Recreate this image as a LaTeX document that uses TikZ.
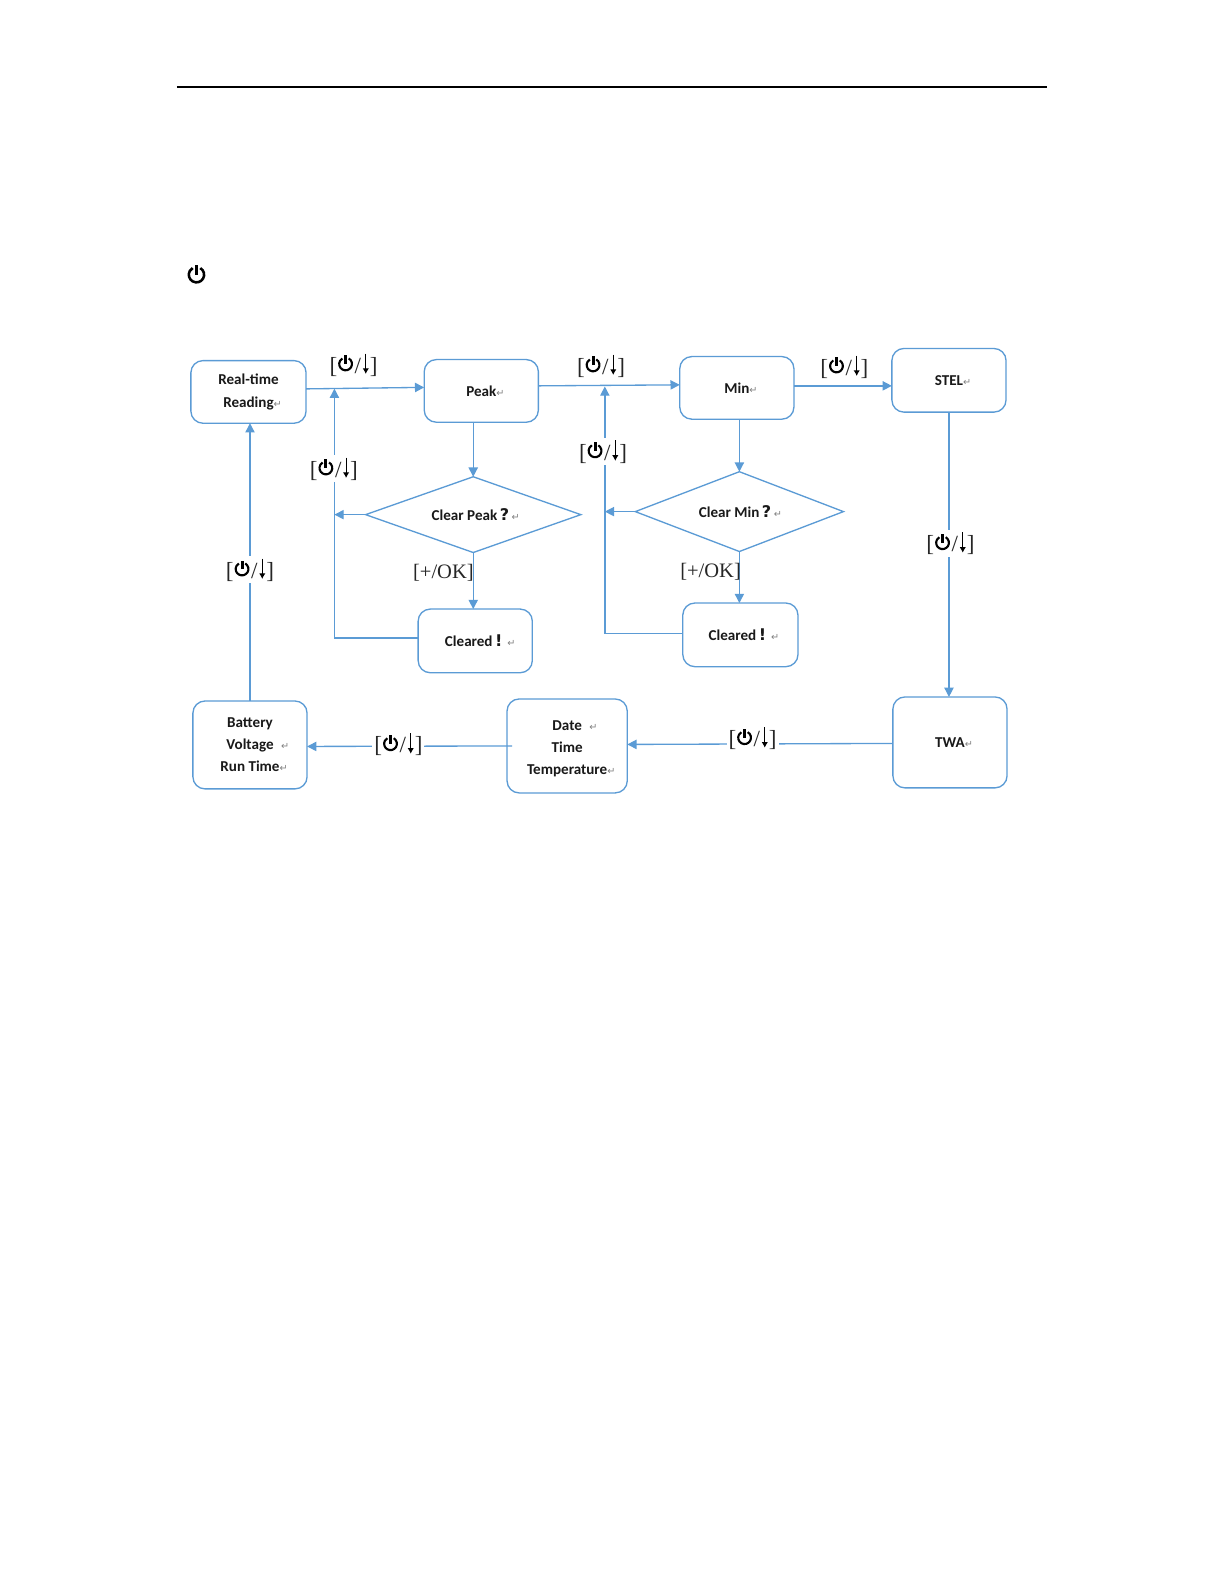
\documentclass[tikz,border=0pt]{standalone}
\usepackage{fontspec}
\setmainfont{Carlito}
\newfontfamily\keyfont{Liberation Serif}
\newfontfamily\markfont{DejaVu Sans}
\usetikzlibrary{calc}
\usetikzlibrary{arrows.meta}
\usetikzlibrary{shapes.geometric}
\definecolor{flow-blue}{HTML}{5B9BD5}
\definecolor{text-dark}{gray}{0.1}

% Power glyph, down arrow, return mark and the key labels
\newcommand{\pwrsym}[1][1]{\tikz[baseline=-0.1pt, x=0.88pt, y=0.88pt]{
  \draw[black, line width=#1*1.05pt, fill=none] ($ (0, #1*3.6) + (60:#1*3.17pt) $) arc (60:-240:#1*3.17pt);
  \draw[black, line width=#1*1.5pt] (0, #1*3.6) -- (0, #1*8.4);}}
\newcommand{\dnsym}{\tikz[baseline=-1.8pt, x=0.88pt, y=0.88pt]{
  \draw[black, line width=0.55pt, -{Latex[length=2.8pt, width=3.2pt]}] (0, 9) -- (0, -2.5);}}
\newcommand{\retmark}{{\markfont\mdseries\fontsize{4.8}{5}\selectfont\textcolor{gray}{↵}}}
\newcommand{\lapmark}{\rlap{\retmark}}
\newcommand{\keypwr}{[\raisebox{1.3pt}{\pwrsym}\kern0.4pt/\kern0.7pt\dnsym\kern0.4pt]}
\newcommand{\bigmark}[1]{{\markfont\bfseries\fontsize{8}{10}\selectfont #1}}

\tikzset{
  box/.style={draw=flow-blue, rounded corners=6pt, line width=0.66pt, fill=white, outer sep=0pt,
    inner sep=0pt, align=center, text=text-dark, font=\fontsize{7.5}{11}\selectfont\bfseries},
  choice/.style={draw=flow-blue, diamond, aspect=2.7, line width=0.66pt, fill=white, inner sep=0pt, outer sep=0pt,
    text=text-dark, font=\fontsize{7.5}{11}\selectfont\bfseries},
  link/.style={draw=flow-blue, line width=0.66pt},
  flow/.style={link, -{Triangle[length=4.6pt, width=4.6pt]}},
  keylabel/.style={fill=white, inner sep=1pt, text=black!85, font=\keyfont\fontsize{11.5}{12}\selectfont},
}

\begin{document}
\begin{tikzpicture}[x=0.5bp, y=-0.5bp]
\useasboundingbox (0, 0) rectangle (1212, 1568.2);

% Header rule and the power glyph
\coordinate[] (rulel) at (175, 86);
\coordinate[] (ruler) at (1037, 86);
\draw[black, line width=0.8pt] (rulel) -- (ruler);
\node[inner sep=0pt] (power) at (194.5, 271) {\pwrsym[1.2]};

% ---------------------------------------------------
% Top row
\node[box, minimum width=114*0.502pt, minimum height=62*0.502pt] (realtime) at (246, 388) {Real-time\\Reading\lapmark};
\node[box, minimum width=113*0.502pt, minimum height=62*0.502pt] (peak) at (476.5, 387) {Peak\lapmark};
\node[box, minimum width=113*0.502pt, minimum height=62*0.502pt] (min) at (729.5, 384) {Min\lapmark};
\node[box, minimum width=113*0.502pt, minimum height=63*0.502pt] (stel) at (939.5, 376.5) {STEL\lapmark};

% Questions
\node[choice, minimum width=213*0.502pt, minimum height=75*0.502pt] (clearpeak) at (468.5, 509.5) {\kern2.5pt Clear Peak\,\bigmark{?}\,\retmark};
\node[choice, minimum width=206*0.502pt, minimum height=79*0.502pt] (clearmin) at (732, 506.5) {\kern1pt Clear Min\,\bigmark{?}\,\retmark};

% Cleared boxes
\node[box, minimum width=113*0.502pt, minimum height=63*0.502pt] (clearedpeak) at (470.5, 634.5) {\kern5pt Cleared\,\bigmark{!}\,\,\retmark};
\node[box, minimum width=114*0.502pt, minimum height=63*0.502pt] (clearedmin) at (733, 628.5) {\kern3.5pt Cleared\,\bigmark{!}\,\,\retmark};

% Bottom row
\node[box, minimum width=113*0.502pt, minimum height=87*0.502pt] (battery) at (247.5, 737.5) {Battery\\Voltage\rlap{\,\,\,\retmark}\\Run Time\lapmark};
\node[box, minimum width=119*0.502pt, minimum height=93*0.502pt] (date) at (561.5, 738.5) {\rule{0pt}{8pt}Date\rlap{\,\,\,\retmark}\\Time\\Temperature\lapmark};
\node[box, minimum width=113*0.502pt, minimum height=90*0.502pt] (twa) at (940.5, 735) {TWA\lapmark};

% ---------------------------------------------------
% Joints
\coordinate[] (joinpeak) at ($ (realtime.east)!0.24!(peak.west) + (0, -3) $);
\coordinate[] (joinmin) at ($ (peak.east)!0.47!(min.west) + (0, -3) $);
\coordinate[] (sidepeak) at (joinpeak |- clearpeak.west);
\coordinate[] (sidemin) at (joinmin |- clearmin.west);

% Main loop
\path[flow] ($ (realtime.east) + (0, -3) $) -- ($ (peak.west) + (0, -3.5) $);
\path[flow] ($ (peak.east) + (0, -5) $) -- ($ (min.west) + (0, -3) $);
\path[flow] ($ (min.east) + (0, -2) $) -- ($ (stel.west) + (0, 5.5) $);
\path[flow] (stel.south) -- (twa.north -| stel.south);
\path[flow] ($ (twa.west) + (0, 1) $) -- ($ (date.east) + (0, -1.5) $);
\path[flow] ($ (date.west) + (5, 0) $) -- ($ (battery.east) + (0, 1.5) $);
\path[flow] (battery.north) -- (realtime.south -| battery.north);

% Peak branch
\path[flow] (peak.south -| clearpeak.north) -- (clearpeak.north);
\path[flow] (clearpeak.west) -- (sidepeak);
\path[flow] (clearpeak.south) -- (clearedpeak.north -| clearpeak.south);
\path[flow] ($ (clearedpeak.west) + (0, -3) $) -| (joinpeak);

% Min branch
\path[flow] (min.south -| clearmin.north) -- (clearmin.north);
\path[flow] (clearmin.west) -- (sidemin);
\path[flow] (clearmin.south) -- (clearedmin.north -| clearmin.south);
\path[flow] ($ (clearedmin.west) + (0, -1.5) $) -| (joinmin);

% ---------------------------------------------------
% Key labels
\node[keylabel, fill=none] (keypeak) at (350, 361) {\keypwr};
\node[keylabel, fill=none] (keymin) at (595, 362) {\keypwr};
\node[keylabel, fill=none] (keystel) at (836, 363) {\keypwr};
\node[keylabel] (keyback) at (330.5, 464) {\keypwr};
\node[keylabel] (keyfwd) at (597, 447) {\keypwr};
\node[keylabel] (keytwa) at (941, 538) {\keypwr};
\node[keylabel] (keydate) at (745, 731) {\keypwr};
\node[keylabel] (keybatt) at (394.5, 737) {\keypwr};
\node[keylabel] (keyreal) at (247.5, 564) {\keypwr};
\node[keylabel, fill=none, inner sep=0pt, font=\keyfont\fontsize{10.2}{12}\selectfont] (okpeak) at (439, 567.5) {[+/OK]};
\node[keylabel, fill=none, inner sep=0pt, font=\keyfont\fontsize{10.2}{12}\selectfont] (okmin) at (703.5, 566) {[+/OK]};
\end{tikzpicture}
\end{document}
